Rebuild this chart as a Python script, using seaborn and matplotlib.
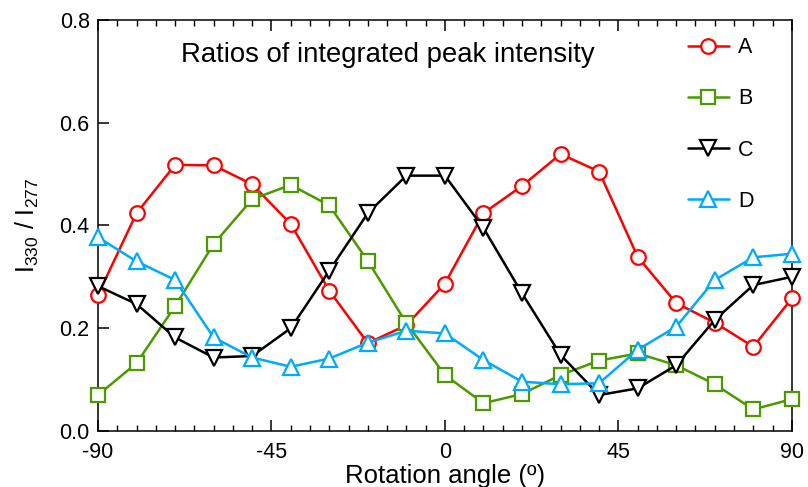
import numpy as np
import pandas as pd
import matplotlib
matplotlib.use("Agg")
import matplotlib.pyplot as plt
from matplotlib.ticker import MultipleLocator, FormatStrFormatter
import seaborn as sns

angles = [-90, -80, -70, -60, -50, -40, -30, -20, -10, 0, 10, 20, 30, 40, 50, 60, 70, 80, 90]
series_a = [0.265, 0.424, 0.518, 0.517, 0.480, 0.403, 0.273, 0.171, 0.206, 0.287, 0.424, 0.477, 0.539, 0.505, 0.339, 0.249, 0.211, 0.164, 0.258]
series_b = [0.070, 0.132, 0.243, 0.364, 0.451, 0.479, 0.439, 0.331, 0.210, 0.109, 0.054, 0.072, 0.109, 0.137, 0.151, 0.128, 0.091, 0.042, 0.062]
series_c = [0.282, 0.247, 0.182, 0.143, 0.146, 0.200, 0.312, 0.424, 0.497, 0.497, 0.395, 0.268, 0.148, 0.070, 0.083, 0.128, 0.216, 0.284, 0.300]
series_d = [0.377, 0.330, 0.294, 0.182, 0.143, 0.125, 0.141, 0.172, 0.195, 0.190, 0.138, 0.096, 0.091, 0.093, 0.158, 0.203, 0.294, 0.338, 0.345]
labels = ["A", "B", "C", "D"]
title_text = "Ratios of integrated peak intensity"
x_label = "Rotation angle (º)"
y_label = r"I$_{\mathregular{330}}$ / I$_{\mathregular{277}}$"
x_ticks = [-90, -45, 0, 45, 90]

sns.set_theme(style="ticks")
plt.rcParams["font.family"] = ["Liberation Sans", "DejaVu Sans"]
plt.rcParams["mathtext.fontset"] = "custom"
plt.rcParams["mathtext.rm"] = "Liberation Sans"
plt.rcParams["mathtext.it"] = "Liberation Sans"
for k in ["text.color", "axes.labelcolor", "xtick.color", "ytick.color", "axes.edgecolor"]:
    plt.rcParams[k] = "black"

styles = {
    "A": dict(color="#ff0000", marker="o", ms=10.5),
    "B": dict(color="#4a9a00", marker="s", ms=10),
    "C": dict(color="#000000", marker="v", ms=12),
    "D": dict(color="#00aaff", marker="^", ms=12),
}

df = pd.DataFrame({
    "angle": angles * 4,
    "ratio": series_a + series_b + series_c + series_d,
    "series": sum([[l] * len(angles) for l in labels], []),
})

fig = plt.figure(figsize=(8.08, 4.87), dpi=100)
ax = fig.add_axes([0.1213, 0.115, 0.8587, 0.844])

for lab in labels:
    st = styles[lab]
    sub = df[df["series"] == lab]
    sns.lineplot(data=sub, x="angle", y="ratio", ax=ax, color=st["color"],
                 marker=st["marker"], markersize=st["ms"], markerfacecolor="white",
                 markeredgecolor=st["color"], markeredgewidth=1.6, linewidth=1.8,
                 label=lab, estimator=None, sort=False, clip_on=False, zorder=3)

ax.set_xlim(-90, 90)
ax.set_ylim(0, 0.8)
ax.set_xticks(x_ticks)
ax.set_xticklabels([str(t) for t in x_ticks])
ax.xaxis.set_minor_locator(MultipleLocator(5))
ax.yaxis.set_major_locator(MultipleLocator(0.2))
ax.yaxis.set_major_formatter(FormatStrFormatter("%.1f"))
ax.tick_params(axis="x", which="major", direction="in", length=8, width=1.1, top=True, pad=8, labelsize=15.5)
ax.tick_params(axis="x", which="minor", direction="in", length=4, width=1.0, top=True)
ax.tick_params(axis="y", which="major", direction="in", length=8, width=1.1, right=False, labelsize=15.5, pad=6)
for sp in ax.spines.values():
    sp.set_visible(True)
    sp.set_linewidth(1.1)
    sp.set_color("black")

ax.set_xlabel(x_label, fontsize=18.5, labelpad=1)
ax.set_ylabel(y_label, fontsize=18, labelpad=13)
ax.text(0.418, 0.915, title_text, transform=ax.transAxes, ha="center", va="center", fontsize=19.8)

leg = ax.legend(loc="upper left", bbox_to_anchor=(0.822, 1.005), frameon=False, fontsize=15.5,
                labelspacing=1.4, handlelength=1.9, handletextpad=0.45)

fig.savefig("out.png", dpi=100)
